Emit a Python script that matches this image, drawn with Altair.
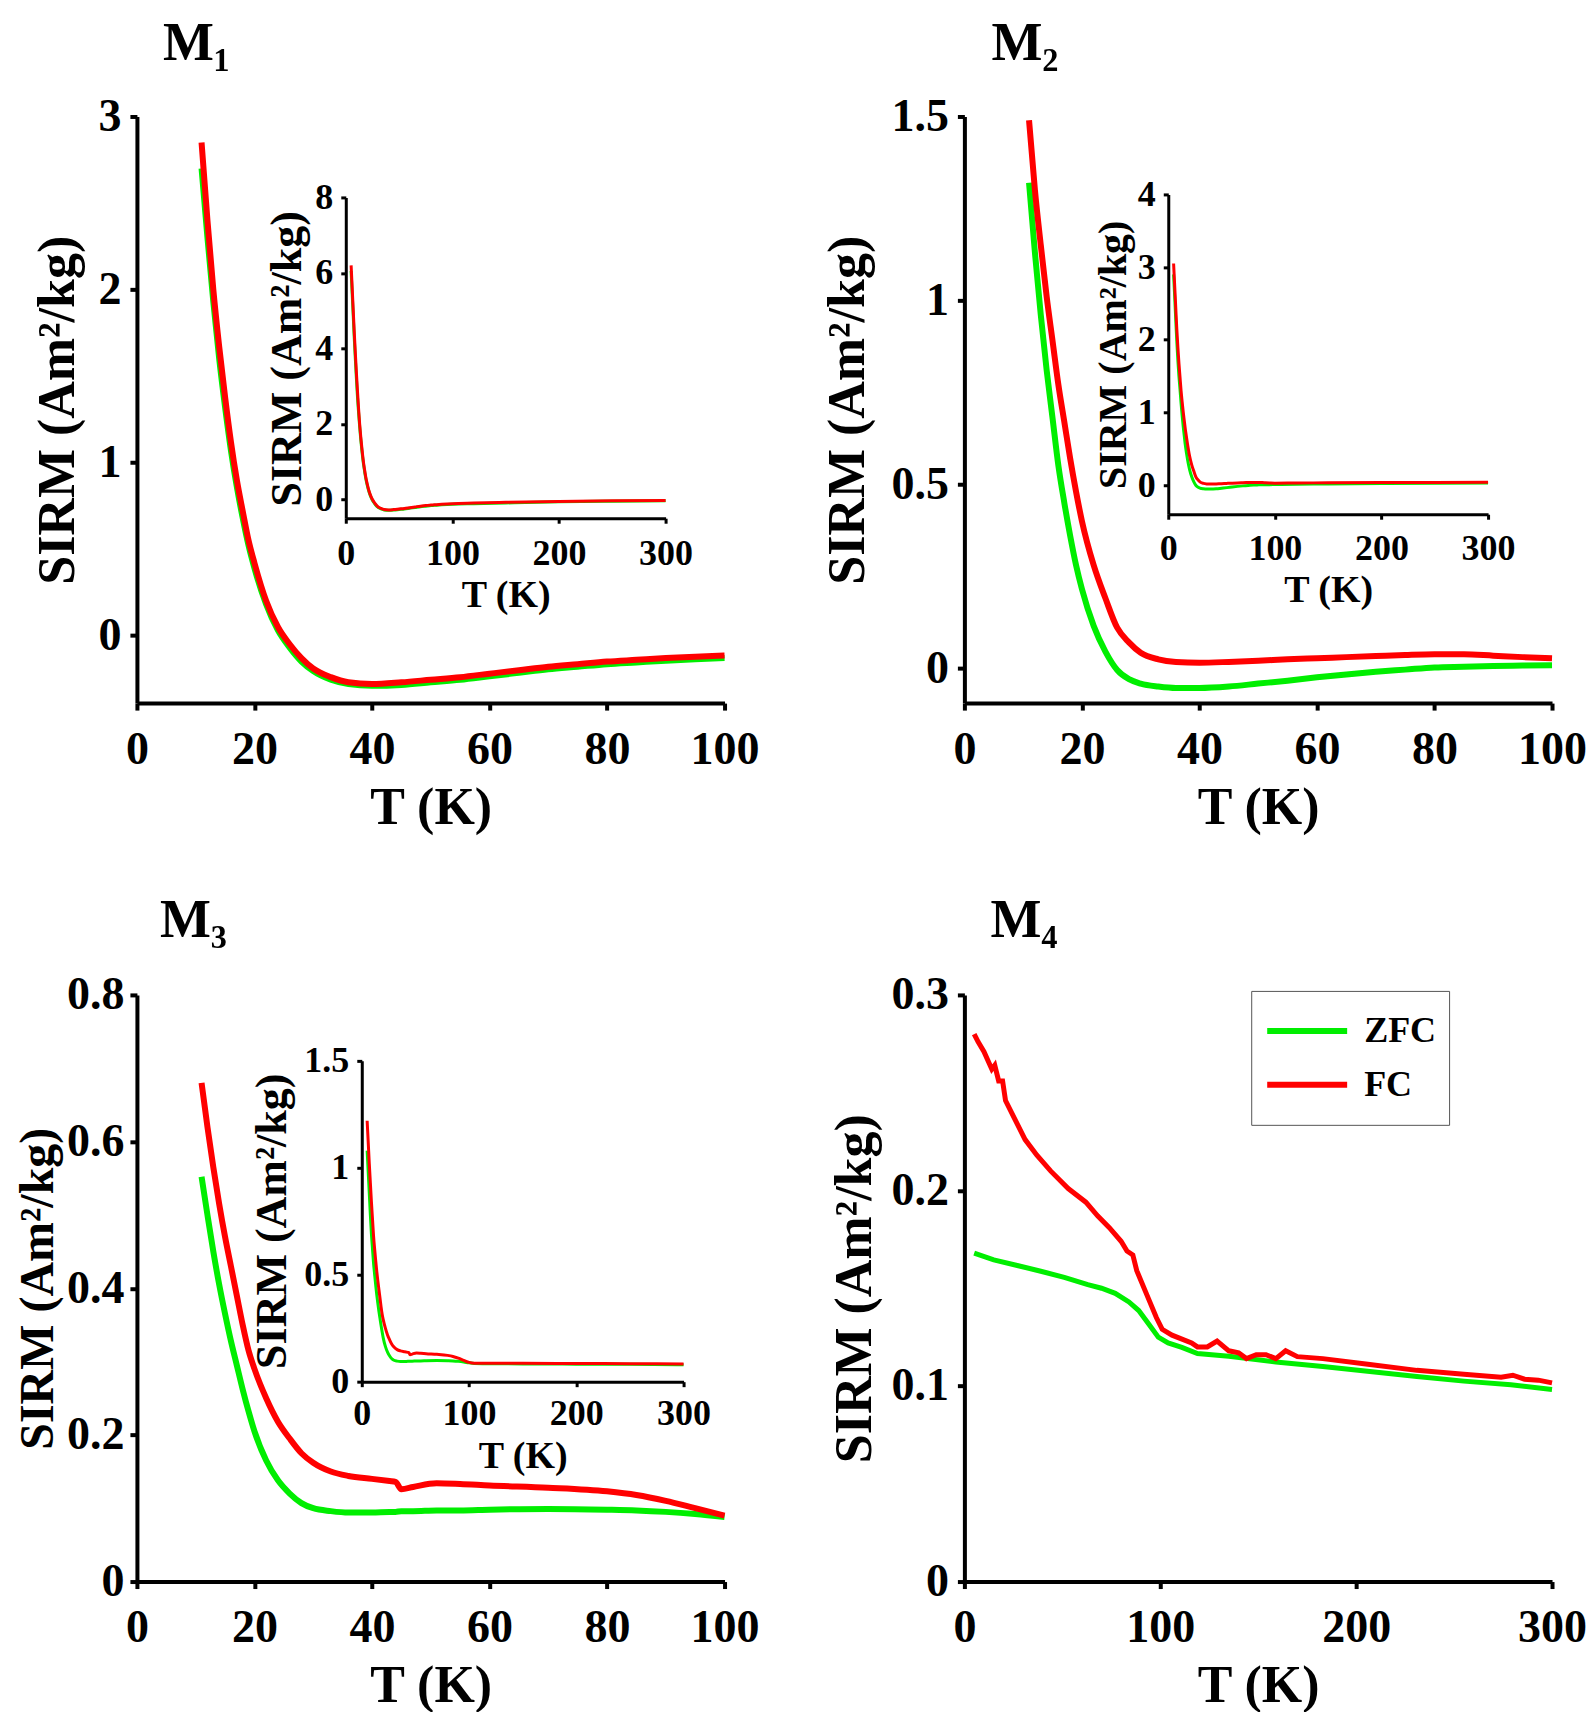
import altair as alt
import pandas as pd

FONT = "Liberation Serif"
GREEN = "#00ee00"
RED = "#ff0000"
SERIES = ["ZFC", "FC"]

# ---------------- data ----------------
# M1 (same T grid for ZFC and FC)
M1_T = [5, 6, 7, 8, 9, 10, 11, 12, 13, 14, 15, 16, 17, 18, 19, 20, 22, 24, 26, 28, 30,
        33, 36, 40, 45, 50, 55, 60, 65, 70, 75, 80, 85, 90, 95, 100, 120, 150, 200, 250, 300]
M1_FC = [6.2, 5.6, 5.0, 4.4, 3.85, 3.33, 2.85, 2.40, 2.0, 1.67, 1.38, 1.12, 0.90, 0.72, 0.55, 0.42,
         0.20, 0.05, -0.05, -0.13, -0.19, -0.24, -0.27, -0.28, -0.27, -0.255, -0.24, -0.22, -0.2,
         -0.18, -0.165, -0.15, -0.14, -0.13, -0.122, -0.115, -0.10, -0.08, -0.055, -0.04, -0.03]
M1_ZFC = [6.05, 5.45, 4.85, 4.25, 3.7, 3.18, 2.70, 2.30, 1.93, 1.60, 1.32, 1.07, 0.86, 0.68, 0.52, 0.39,
          0.18, 0.03, -0.07, -0.15, -0.205, -0.255, -0.28, -0.29, -0.285, -0.27, -0.255, -0.235, -0.215,
          -0.195, -0.18, -0.165, -0.155, -0.145, -0.137, -0.13, -0.115, -0.095, -0.065, -0.05, -0.04]

# M2
M2_T = M1_T
M2_FC = [3.05, 2.75, 2.45, 2.15, 1.9, 1.68, 1.49, 1.30, 1.15, 1.01, 0.89, 0.77, 0.67, 0.57, 0.48, 0.40,
         0.28, 0.19, 0.11, 0.07, 0.042, 0.024, 0.017, 0.015, 0.017, 0.02, 0.024, 0.027, 0.03, 0.033,
         0.036, 0.038, 0.038, 0.034, 0.03, 0.027, 0.03, 0.032, 0.035, 0.038, 0.04]
M2_ZFC = [2.9, 2.6, 2.28, 1.98, 1.72, 1.5, 1.32, 1.13, 0.96, 0.81, 0.68, 0.55, 0.45, 0.36, 0.28, 0.215,
          0.115, 0.045, -0.005, -0.03, -0.042, -0.05, -0.054, -0.054, -0.05, -0.042, -0.034, -0.025,
          -0.017, -0.01, -0.004, 0.002, 0.004, 0.006, 0.007, 0.008, 0.012, 0.016, 0.022, 0.027, 0.03]

# M3
M3_T = [5, 6, 7, 8, 9, 10, 11, 12, 13, 14, 15, 16, 17, 18, 19, 20, 22, 24, 26, 28, 30, 33, 36, 40,
        43, 44, 45, 47, 51, 55, 60, 70, 80, 85, 90, 95, 100, 105, 120, 150, 200, 250, 300]
M3_FC = [1.22, 1.12, 1.02, 0.93, 0.84, 0.76, 0.68, 0.62, 0.565, 0.515, 0.47, 0.43, 0.39, 0.35, 0.315,
         0.29, 0.25, 0.218, 0.195, 0.175, 0.162, 0.15, 0.144, 0.14, 0.137, 0.136, 0.126, 0.129, 0.134,
         0.133, 0.131, 0.128, 0.123, 0.118, 0.11, 0.1, 0.09, 0.086, 0.086, 0.086, 0.085, 0.084, 0.083]
M3_ZFC = [1.08, 0.98, 0.88, 0.78, 0.69, 0.62, 0.552, 0.50, 0.45, 0.405, 0.365, 0.328, 0.295, 0.262,
          0.232, 0.205, 0.165, 0.138, 0.12, 0.107, 0.1, 0.096, 0.094, 0.094, 0.095, 0.095, 0.096, 0.096,
          0.097, 0.097, 0.098, 0.099, 0.098, 0.097, 0.095, 0.092, 0.088, 0.085, 0.084, 0.083, 0.082,
          0.081, 0.079]

# M4
M4_T_FC = [5, 7, 10, 14, 15.5, 17.5, 19.5, 21, 26, 31, 37, 44, 53, 62, 68, 74, 80, 83, 86, 88, 93, 98,
           101, 106, 116, 119, 124, 129, 135, 140, 144, 149, 154, 159, 164, 170, 183, 207, 231, 255,
           274, 280, 286, 293, 300]
M4_FC = [0.280, 0.276, 0.271, 0.262, 0.264, 0.256, 0.256, 0.246, 0.236, 0.226, 0.218, 0.210, 0.201,
         0.194, 0.187, 0.181, 0.174, 0.169, 0.167, 0.159, 0.147, 0.135, 0.129, 0.126, 0.122, 0.120,
         0.120, 0.123, 0.118, 0.117, 0.114, 0.116, 0.116, 0.114, 0.118, 0.115, 0.114, 0.111, 0.108,
         0.106, 0.1045, 0.1055, 0.1035, 0.103, 0.1016]
M4_T_ZFC = [5, 15, 27, 39, 51, 63, 70, 77, 84, 89, 94, 99, 104, 111, 119, 135, 159, 183, 207, 231,
            255, 279, 300]
M4_ZFC = [0.168, 0.1645, 0.1616, 0.1587, 0.1556, 0.1518, 0.150, 0.1474, 0.143, 0.1386, 0.1318, 0.125,
          0.122, 0.1197, 0.1166, 0.1152, 0.1123, 0.110, 0.1074, 0.1049, 0.1025, 0.1006, 0.0982]

TITLES = ["M\u2081", "M\u2082", "M\u2083", "M\u2084"]
X_MAIN_TICKS = [0, 20, 40, 60, 80, 100]
X_300_TICKS = [0, 100, 200, 300]
M1_Y_TICKS = [0, 1, 2, 3]
M1_IN_Y_TICKS = [0, 2, 4, 6, 8]
M2_Y_TICKS = [0, 0.5, 1, 1.5]
M2_IN_Y_TICKS = [0, 1, 2, 3, 4]
M3_Y_TICKS = [0, 0.2, 0.4, 0.6, 0.8]
M3_IN_Y_TICKS = [0, 0.5, 1, 1.5]
M4_Y_TICKS = [0, 0.1, 0.2, 0.3]
Y_TITLE = "SIRM (Am\u00b2/kg)"
X_TITLE = "T (K)"

W, H = 588, 587


def frame(t_zfc, zfc, t_fc, fc):
    return pd.DataFrame({
        "T": list(t_zfc) + list(t_fc),
        "SIRM": list(zfc) + list(fc),
        "series": ["ZFC"] * len(zfc) + ["FC"] * len(fc),
    })


def x_axis(values, offset, label_size, label_pad, title_size, title_x, title_y, tick, dw):
    return alt.Axis(values=values, orient="bottom", offset=offset, grid=False, format="~f",
                    domainColor="black", domainWidth=dw, tickColor="black", tickWidth=dw,
                    tickSize=tick, labelFont=FONT, labelFontSize=label_size,
                    labelFontWeight="bold", labelColor="black", labelPadding=label_pad,
                    labelBaseline="alphabetic", labelFlush=False, labelOverlap=False,
                    title=X_TITLE, titleFont=FONT, titleFontSize=title_size,
                    titleFontWeight="bold", titleColor="black", titleX=title_x,
                    titleY=title_y, titleAlign="center", titleBaseline="alphabetic")


def y_axis(values, offset, label_size, label_pad, title_size, title_x, title_y, tick, dw):
    return alt.Axis(values=values, orient="left", offset=offset, grid=False, format="~f",
                    domainColor="black", domainWidth=dw, tickColor="black", tickWidth=dw,
                    tickSize=tick, labelFont=FONT, labelFontSize=label_size,
                    labelFontWeight="bold", labelColor="black", labelPadding=label_pad,
                    labelBaseline="middle", labelFlush=False, labelOverlap=False,
                    title=Y_TITLE, titleFont=FONT, titleFontSize=title_size,
                    titleFontWeight="bold", titleColor="black", titleX=title_x,
                    titleY=title_y, titleAlign="center", titleBaseline="alphabetic")


def curves(df, xaxis, yaxis, xdom, ydom, sw, xrange=None, yrange=None, legend=None,
           trange=None, interp="monotone"):
    xs = alt.Scale(domain=xdom, nice=False, zero=False, range=xrange) if xrange else \
        alt.Scale(domain=xdom, nice=False, zero=False)
    ys = alt.Scale(domain=ydom, nice=False, zero=False, range=yrange) if yrange else \
        alt.Scale(domain=ydom, nice=False, zero=False)
    layers = []
    for s in SERIES:
        c = alt.Chart(df).transform_filter(alt.datum.series == s)
        if trange:
            c = c.transform_filter((alt.datum.T >= trange[0]) & (alt.datum.T <= trange[1]))
        layers.append(
            c.mark_line(strokeWidth=sw, interpolate=interp).encode(
                x=alt.X("T:Q", scale=xs, axis=xaxis),
                y=alt.Y("SIRM:Q", scale=ys, axis=yaxis),
                color=alt.Color("series:N", scale=alt.Scale(domain=SERIES, range=[GREEN, RED]),
                                legend=legend),
            )
        )
    return alt.layer(*layers)


def panel_label(text, dx, top_y):
    return alt.Chart(pd.DataFrame({"label": [text]})).mark_text(
        align="left", baseline="top", font=FONT, fontSize=54, fontWeight="bold",
        color="black").encode(text="label:N", x=alt.value(dx), y=alt.value(top_y))


LABEL_SIZE = 46


def main_x(values):
    return x_axis(values, 0, LABEL_SIZE, 53, 52, W / 2, 120, 7, 4)


def main_y(values, title_x, title_size=52, label_pad=9):
    return y_axis(values, 0, LABEL_SIZE, label_pad, title_size, title_x, H / 2, 7, 4)


df1 = frame(M1_T, M1_ZFC, M1_T, M1_FC)
df2 = frame(M2_T, M2_ZFC, M2_T, M2_FC)
df3 = frame(M3_T, M3_ZFC, M3_T, M3_FC)
df4 = frame(M4_T_ZFC, M4_ZFC, M4_T_FC, M4_FC)

# ---- panel M1 ----
p1 = alt.layer(
    curves(df1, main_x(X_MAIN_TICKS), main_y(M1_Y_TICKS, -63), [0, 100], [-0.39, 3], 6,
           trange=(11, 100)),
    curves(df1,
           x_axis(X_300_TICKS, -185, 36, 41, 38, 369, 88, 5, 3),
           y_axis(M1_IN_Y_TICKS, -209, 36, 8, 44, -45, 242, 5, 3),
           [0, 300], [-0.5, 8], 3, xrange=[209, 529], yrange=[402, 81]),
    panel_label(TITLES[0], 26, -100),
).resolve_scale(x="independent", y="independent").properties(width=W, height=H)

# ---- panel M2 ----
p2 = alt.layer(
    curves(df2, main_x(X_MAIN_TICKS), main_y(M2_Y_TICKS, -101), [0, 100], [-0.095, 1.5], 6,
           trange=(11, 100)),
    curves(df2,
           x_axis(X_300_TICKS, -189, 36, 40, 38, 364, 87, 5, 3),
           y_axis(M2_IN_Y_TICKS, -204, 36, 8, 40, -43, 238, 5, 3),
           [0, 300], [-0.4, 4], 3, xrange=[204, 524], yrange=[398, 78]),
    panel_label(TITLES[1], 27, -100),
).resolve_scale(x="independent", y="independent").properties(width=W, height=H)

# ---- panel M3 ----
p3 = alt.layer(
    curves(df3, main_x(X_MAIN_TICKS), main_y(M3_Y_TICKS, -84, 48, 6), [0, 100], [0, 0.8], 6,
           trange=(11, 100)),
    curves(df3,
           x_axis(X_300_TICKS, -200, 36, 38, 38, 386, 86, 5, 3),
           y_axis(M3_IN_Y_TICKS, -225, 36, 8, 44, -76, 226, 5, 3),
           [0, 300], [0, 1.5], 3, xrange=[225, 547], yrange=[387, 66]),
    panel_label(TITLES[2], 23, -101),
).resolve_scale(x="independent", y="independent").properties(width=W, height=H)

# ---- panel M4 ----
legend = alt.Legend(orient="none", legendX=287, legendY=-4, title=None, symbolType="stroke",
                    symbolSize=6400, symbolStrokeWidth=6, labelFont=FONT, labelFontSize=36,
                    labelFontWeight="bold", labelColor="black", labelOffset=14,
                    strokeColor="#555555", fillColor="white", padding=13, rowPadding=0,
                    clipHeight=54)
p4 = alt.layer(
    curves(df4, main_x(X_300_TICKS), main_y(M4_Y_TICKS, -94), [0, 300], [0, 0.3], 5,
           legend=legend, interp="linear"),
    panel_label(TITLES[3], 26, -101),
).properties(width=W, height=H)

chart = alt.concat(p1, p2, p3, p4, columns=2, spacing={"row": 292, "column": 240},
                   bounds="flush").resolve_scale(color="independent").properties(
    padding={"left": 6, "top": 8, "right": 0, "bottom": 0}
).configure_view(strokeWidth=0)

chart.save("out.html", embed_options={"renderer": "svg", "actions": False})
